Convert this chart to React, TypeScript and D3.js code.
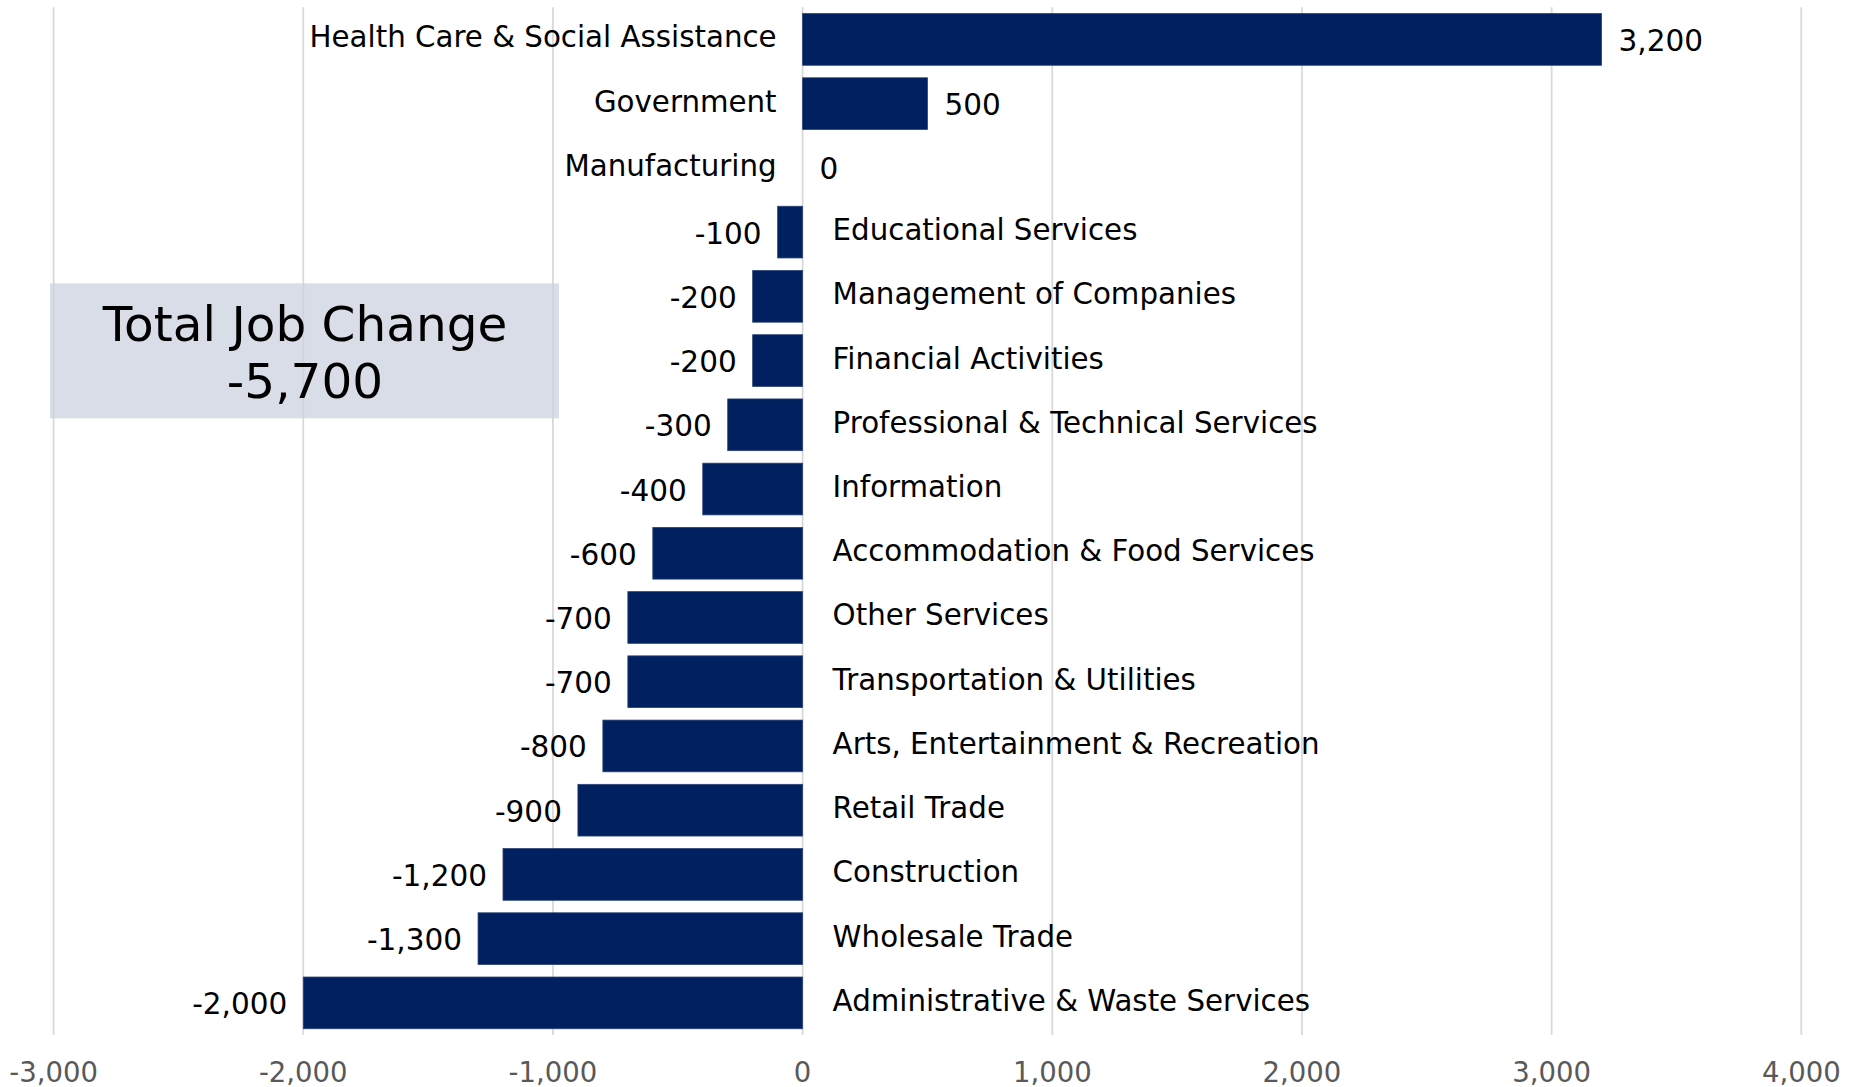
import React from "react";
import * as d3 from "d3";

// Job change by industry (top to bottom)
const categories = [
  "Health Care & Social Assistance",
  "Government",
  "Manufacturing",
  "Educational Services",
  "Management of Companies",
  "Financial Activities",
  "Professional & Technical Services",
  "Information",
  "Accommodation & Food Services",
  "Other Services",
  "Transportation & Utilities",
  "Arts, Entertainment & Recreation",
  "Retail Trade",
  "Construction",
  "Wholesale Trade",
  "Administrative & Waste Services",
];
const jobChange = [
  3200, 500, 0, -100, -200, -200, -300, -400, -600, -700, -700, -800, -900,
  -1200, -1300, -2000,
];
const xTicks = [-3000, -2000, -1000, 0, 1000, 2000, 3000, 4000];
const totalTitle = "Total Job Change";
const totalValue = -5700;

const W = 1858;
const H = 1087;
const FONT = "'DejaVu Sans', Verdana, sans-serif";

const locale = d3.formatLocale({
  decimal: ".",
  thousands: ",",
  grouping: [3],
  currency: ["$", ""],
  minus: "-",
});
const fmt = locale.format(",");

const App: React.FC = () => {
  const x = d3.scaleLinear().domain([-3000, 4000]).range([53.6, 1801.3]);
  const y = d3
    .scaleBand<string>()
    .domain(categories)
    .range([7.3, 1035])
    .paddingInner(0.195)
    .paddingOuter(0.0975);

  const data = categories.map((c, i) => ({ category: c, value: jobChange[i] }));
  const x0 = x(0);

  return (
    <svg
      width={W}
      height={H}
      style={{ position: "absolute", left: 0, top: 0, background: "#fff" }}
      fontFamily={FONT}
    >
      {/* grid */}
      <g>
        {xTicks.map((t) => (
          <line
            key={t}
            x1={x(t)}
            x2={x(t)}
            y1={7.3}
            y2={1035}
            stroke="#d9d9d9"
            strokeWidth={1.8}
          />
        ))}
      </g>

      {/* total box */}
      <rect x={50} y={283.3} width={509} height={135} fill="#ccd2df" opacity={0.75} />
      <text x={305} y={340.5} textAnchor="middle" fontSize={48.5} fill="#000">
        {totalTitle}
      </text>
      <text x={305} y={398} textAnchor="middle" fontSize={48.5} fill="#000">
        {fmt(totalValue)}
      </text>

      {/* bars */}
      <g>
        {data.map((d) => (
          <rect
            key={d.category}
            x={Math.min(x(d.value), x0)}
            y={y(d.category)!}
            width={Math.abs(x(d.value) - x0)}
            height={y.bandwidth()}
            fill="#002060"
            stroke={d.value === 0 ? "none" : "#2a4275"}
            strokeWidth={0.8}
          />
        ))}
      </g>

      {/* category labels */}
      <g fontSize={29.3} fill="#000">
        {data.map((d) => {
          const cy = y(d.category)! + y.bandwidth() / 2;
          const neg = d.value < 0;
          return (
            <text
              key={d.category}
              x={neg ? x0 + 30 : x0 - 26}
              y={cy + 8}
              textAnchor={neg ? "start" : "end"}
            >
              {d.category}
            </text>
          );
        })}
      </g>

      {/* value labels */}
      <g fontSize={29.5} fill="#000">
        {data.map((d) => {
          const cy = y(d.category)! + y.bandwidth() / 2;
          const neg = d.value < 0;
          return (
            <text
              key={d.category}
              x={neg ? x(d.value) - 16 : x(d.value) + 17}
              y={cy + 11.5}
              textAnchor={neg ? "end" : "start"}
            >
              {fmt(d.value)}
            </text>
          );
        })}
      </g>

      {/* x axis tick labels */}
      <g fontSize={27.5} fill="#595959">
        {xTicks.map((t) => (
          <text key={t} x={x(t)} y={1081.7} textAnchor="middle">
            {fmt(t)}
          </text>
        ))}
      </g>
    </svg>
  );
};

export default App;
